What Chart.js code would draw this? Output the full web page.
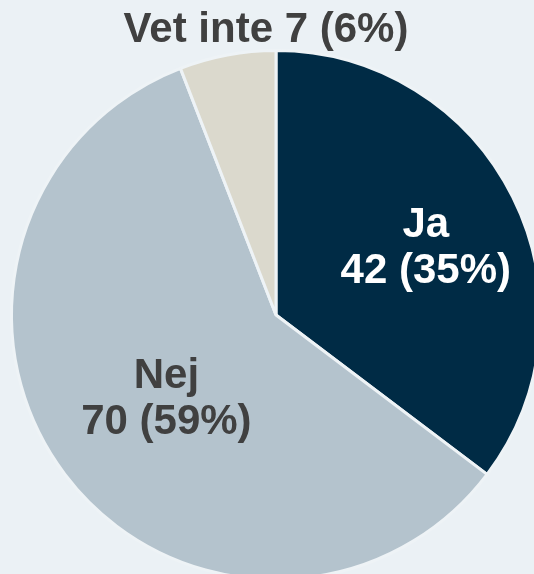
<!DOCTYPE html>
<html>
<head>
<meta charset="utf-8">
<script src="https://cdn.jsdelivr.net/npm/chart.js@4/dist/chart.umd.min.js"></script>
<style>
  html, body { margin: 0; padding: 0; background: #ebf1f5; overflow: hidden; }
  #wrap { position: relative; width: 560px; height: 600px; }
</style>
</head>
<body>
<div id="wrap"><canvas id="pieChart"></canvas></div>
<script>
    const labels = ['Ja', 'Nej', 'Vet inte'];
    const counts = [42, 70, 7];
    const sliceColors = ['#002b45', '#b4c3cd', '#dbd9cd'];
    const textColors = ['#ffffff', '#404040', '#404040'];

    const total = counts.reduce((a, b) => a + b, 0);

    // where the inside labels sit: share of the radius along the slice middle, plus a small nudge
    const labelFrac = [0.62, 0.524, 0];
    const labelNudge = [[3, 7], [1, 1], [0, 0]];

    // draw the labels inside (or above) each slice
    const sliceLabels = {
        id: 'sliceLabels',
        afterDatasetsDraw(chart) {
            const ctx = chart.ctx;
            const arcs = chart.getDatasetMeta(0).data;
            ctx.save();
            ctx.font = 'bold 42px "Liberation Sans", Arial, sans-serif';
            ctx.textAlign = 'center';
            ctx.textBaseline = 'middle';
            arcs.forEach((arc, i) => {
                const pct = Math.round(counts[i] / total * 100);
                const mid = (arc.startAngle + arc.endAngle) / 2;
                const r = arc.outerRadius;
                ctx.fillStyle = textColors[i];
                if (counts[i] / total < 0.1) {
                    // small slice: one line above the pie
                    ctx.fillText(labels[i] + ' ' + counts[i] + ' (' + pct + '%)', arc.x - 10, arc.y - r - 20);
                } else {
                    const x = arc.x + Math.cos(mid) * r * labelFrac[i] + labelNudge[i][0];
                    const y = arc.y + Math.sin(mid) * r * labelFrac[i] + labelNudge[i][1];
                    ctx.fillText(labels[i], x, y - 23);
                    ctx.fillText(counts[i] + ' (' + pct + '%)', x, y + 23);
                }
            });
            ctx.restore();
        }
    };

    new Chart(document.getElementById('pieChart'), {
        type: 'pie',
        data: {
            labels: labels,
            datasets: [{
                data: counts,
                backgroundColor: sliceColors,
                borderColor: '#eef3f6',
                borderWidth: 3,
            }],
        },
        options: {
            responsive: true,
            maintainAspectRatio: false,
            animation: false,
            layout: { padding: { left: 10, top: 49, right: 18, bottom: 19 } },
            plugins: {
                legend: { display: false },
                tooltip: { enabled: false },
            },
        },
        plugins: [sliceLabels],
    });
</script>
</body>
</html>
